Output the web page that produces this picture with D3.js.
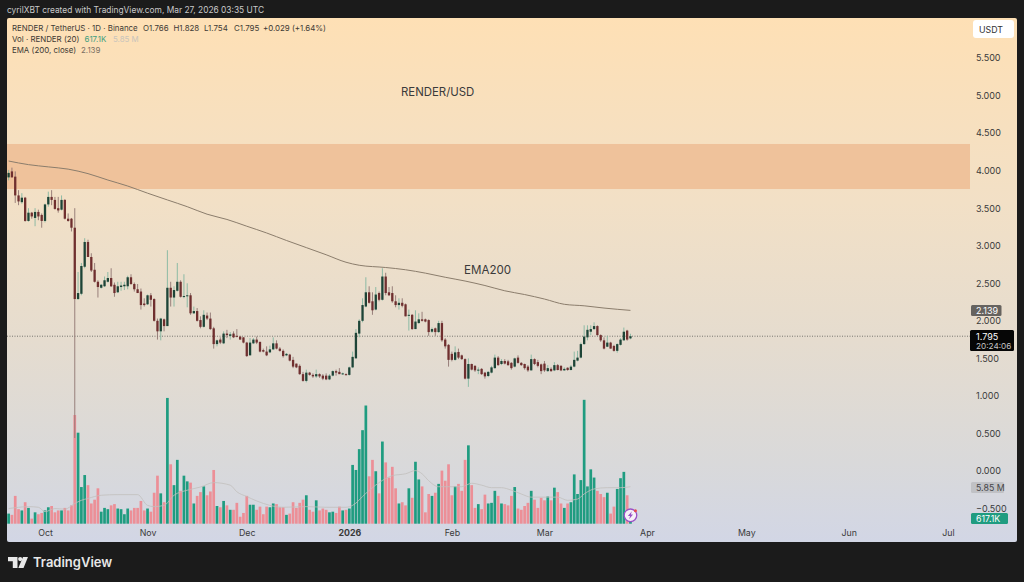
<!DOCTYPE html>
<html>
<head>
<meta charset="utf-8">
<script src="https://cdn.jsdelivr.net/npm/d3@7"></script>
<style>
  html, body { margin: 0; padding: 0; background: #1b1b1b; }
  svg { display: block; }
  text { font-family: Inter, "Liberation Sans", sans-serif; }
</style>
</head>
<body>
<div id="chart"></div>
<script>
const firstDay = Date.UTC(2025, 8, 20);
const lastDay = Date.UTC(2026, 2, 28);

const opens = [
  3.91,3.99,3.92,3.67,3.58,3.64,3.33,3.44,3.37,3.45,
  3.41,3.33,3.55,3.65,3.61,3.50,3.48,3.61,3.36,3.36,
  3.24,2.29,2.36,2.72,3.05,2.85,2.68,2.52,2.44,2.46,
  2.52,2.57,2.48,2.38,2.45,2.46,2.46,2.58,2.49,2.42,
  2.39,2.23,2.22,2.34,2.29,2.00,1.86,2.02,1.93,2.44,
  2.31,2.40,2.52,2.32,2.33,2.34,2.10,2.13,2.01,1.92,
  2.07,2.03,1.90,1.69,1.75,1.70,1.83,1.80,1.83,1.80,
  1.79,1.78,1.71,1.54,1.70,1.75,1.72,1.61,1.59,1.58,
  1.62,1.70,1.63,1.60,1.54,1.55,1.48,1.43,1.40,1.29,
  1.20,1.31,1.28,1.26,1.29,1.27,1.27,1.22,1.27,1.33,
  1.32,1.29,1.29,1.28,1.38,1.50,1.83,2.00,2.19,2.38,
  2.26,2.15,2.37,2.28,2.59,2.38,2.37,2.26,2.21,2.24,
  2.22,2.07,2.08,1.89,1.97,2.02,2.02,2.01,1.855,1.90,
  1.85,1.97,1.75,1.68,1.56,1.48,1.585,1.54,1.49,1.23,
  1.425,1.40,1.34,1.36,1.31,1.265,1.31,1.37,1.51,1.425,
  1.465,1.46,1.44,1.39,1.51,1.44,1.425,1.39,1.34,1.49,
  1.45,1.42,1.43,1.33,1.36,1.34,1.41,1.40,1.34,1.375,
  1.345,1.39,1.47,1.51,1.69,1.78,1.855,1.89,1.93,1.81,
  1.74,1.655,1.71,1.665,1.60,1.68,1.74,1.87,1.766
];
const highs = [
  4.01,4.04,3.99,3.74,3.70,3.65,3.50,3.45,3.50,3.48,
  3.43,3.56,3.72,3.74,3.65,3.65,3.67,3.62,3.43,3.37,
  3.50,2.65,2.77,3.10,3.08,2.90,2.77,2.54,2.49,2.59,
  2.65,2.70,2.51,2.52,2.52,2.52,2.60,2.62,2.51,2.49,
  2.43,2.30,2.35,2.37,2.30,2.03,2.04,2.03,2.94,2.52,
  2.46,2.77,2.54,2.62,2.50,2.37,2.19,2.17,2.06,2.14,
  2.11,2.11,1.92,1.75,1.78,1.86,1.88,1.85,1.86,1.89,
  1.80,1.78,1.72,1.77,1.77,1.79,1.72,1.63,1.66,1.67,
  1.78,1.74,1.65,1.62,1.57,1.56,1.52,1.43,1.42,1.32,
  1.35,1.32,1.30,1.35,1.30,1.29,1.30,1.29,1.34,1.35,
  1.37,1.31,1.30,1.39,1.59,1.89,2.02,2.30,2.58,2.46,
  2.38,2.45,2.39,2.70,2.64,2.45,2.46,2.34,2.30,2.30,
  2.23,2.15,2.09,2.14,2.10,2.12,2.03,2.02,1.91,1.91,
  2.00,2.00,1.77,1.69,1.59,1.66,1.63,1.55,1.50,1.50,
  1.43,1.41,1.38,1.37,1.32,1.33,1.40,1.55,1.53,1.49,
  1.49,1.48,1.45,1.51,1.54,1.45,1.43,1.41,1.55,1.50,
  1.48,1.43,1.465,1.41,1.38,1.45,1.425,1.41,1.38,1.38,
  1.41,1.59,1.60,1.71,1.94,1.94,1.94,1.98,1.94,1.82,
  1.78,1.80,1.72,1.68,1.70,1.77,1.91,1.88,1.828
];
const lows = [
  3.87,3.91,3.57,3.54,3.56,3.32,3.32,3.36,3.26,3.34,
  3.24,3.31,3.52,3.54,3.48,3.44,3.47,3.35,3.32,3.19,
  0.44,2.28,2.34,2.70,2.85,2.65,2.51,2.31,2.43,2.45,
  2.51,2.45,2.32,2.37,2.40,2.41,2.42,2.48,2.39,2.37,
  2.15,2.19,2.21,2.19,1.99,1.75,1.74,1.86,1.93,2.19,
  2.19,2.39,2.31,2.30,2.18,2.08,2.09,1.99,1.90,1.91,
  2.01,1.88,1.63,1.66,1.69,1.69,1.77,1.75,1.77,1.78,
  1.75,1.70,1.52,1.54,1.69,1.69,1.58,1.58,1.53,1.57,
  1.61,1.62,1.59,1.51,1.53,1.46,1.37,1.37,1.28,1.19,
  1.18,1.27,1.24,1.24,1.24,1.21,1.21,1.21,1.26,1.27,
  1.29,1.28,1.27,1.27,1.37,1.50,1.78,1.98,2.18,2.23,
  2.08,2.14,2.26,2.27,2.34,2.33,2.24,2.18,2.15,2.18,
  2.06,1.87,1.88,1.89,1.96,1.99,1.98,1.80,1.84,1.80,
  1.84,1.72,1.63,1.39,1.46,1.47,1.49,1.48,1.22,1.12,
  1.34,1.32,1.29,1.28,1.23,1.25,1.30,1.36,1.40,1.41,
  1.42,1.40,1.35,1.38,1.43,1.40,1.35,1.32,1.34,1.41,
  1.38,1.29,1.32,1.32,1.32,1.33,1.34,1.33,1.335,1.335,
  1.34,1.38,1.46,1.50,1.68,1.74,1.81,1.88,1.80,1.72,
  1.62,1.65,1.63,1.59,1.575,1.67,1.735,1.735,1.754
];
const closes = [
  3.97,3.91,3.67,3.59,3.64,3.33,3.44,3.39,3.45,3.39,
  3.33,3.55,3.65,3.61,3.49,3.47,3.61,3.36,3.33,3.24,
  2.29,2.37,2.73,3.05,2.85,2.67,2.52,2.45,2.48,2.54,
  2.57,2.46,2.37,2.46,2.47,2.48,2.58,2.49,2.42,2.37,
  2.21,2.21,2.34,2.28,2.00,1.86,2.03,1.93,2.44,2.31,
  2.41,2.52,2.32,2.33,2.34,2.10,2.13,2.00,1.92,2.08,
  2.03,1.89,1.69,1.74,1.71,1.83,1.81,1.82,1.78,1.79,
  1.75,1.71,1.53,1.71,1.75,1.71,1.59,1.59,1.54,1.62,
  1.70,1.63,1.60,1.53,1.56,1.47,1.39,1.38,1.29,1.20,
  1.31,1.28,1.26,1.29,1.26,1.23,1.22,1.27,1.33,1.31,
  1.29,1.30,1.28,1.38,1.52,1.84,2.00,2.21,2.38,2.24,
  2.14,2.35,2.28,2.59,2.37,2.34,2.26,2.21,2.24,2.20,
  2.06,2.08,1.89,1.99,2.02,2.00,1.99,1.85,1.89,1.85,
  1.97,1.74,1.66,1.48,1.48,1.58,1.51,1.49,1.23,1.425,
  1.35,1.34,1.35,1.29,1.26,1.32,1.38,1.51,1.41,1.465,
  1.43,1.41,1.37,1.50,1.44,1.41,1.37,1.34,1.49,1.425,
  1.40,1.33,1.34,1.37,1.33,1.41,1.345,1.34,1.36,1.345,
  1.39,1.48,1.51,1.69,1.79,1.88,1.89,1.93,1.81,1.74,
  1.63,1.71,1.63,1.60,1.69,1.75,1.855,1.75,1.795
];
// volume in millions
const volumes = [
  1.6,1.4,4.4,2.3,2.1,3.4,2.5,0.8,1.8,1.5,
  1.7,2.1,2.6,2.8,1.8,2.1,2.1,2.5,2.1,2.9,
  17.2,14.4,5.8,7.7,6.1,3.2,3.8,5.6,1.9,2.5,
  2.3,2.9,3.1,2.4,2.3,1.5,2.4,2.1,2.5,2.5,
  3.6,2.1,2.4,1.9,4.9,7.6,4.8,3.4,19.9,9.4,
  6.1,10.1,5.2,7.6,6.7,6.5,3.2,4.4,5.0,5.9,
  4.5,5.1,8.5,2.8,2.6,3.6,2.9,2.2,2.2,3.3,
  1.1,1.7,4.4,3.0,3.0,2.2,2.7,1.5,2.7,2.6,
  3.2,3.1,2.6,2.6,1.4,1.6,3.4,2.5,3.3,3.8,
  4.5,2.2,1.9,3.7,2.1,2.4,2.2,1.8,1.9,1.7,
  2.7,2.1,2.2,2.4,9.3,8.5,11.8,14.8,18.7,7.5,
  10.1,8.3,4.8,13.0,9.7,7.3,9.0,5.6,3.2,3.4,
  2.9,5.6,4.1,9.8,7.0,5.9,1.8,4.7,4.4,4.9,
  6.3,8.4,6.8,9.4,4.5,5.9,6.3,5.2,10.1,12.4,
  6.1,2.5,3.1,2.3,4.6,3.2,3.3,5.2,4.4,3.2,
  3.1,2.9,4.4,5.8,2.4,2.2,2.8,3.3,5.2,3.8,
  2.5,4.1,3.7,4.3,3.7,5.7,5.0,3.2,2.5,3.2,
  3.4,7.8,4.7,6.9,19.6,5.9,8.6,7.3,5.2,4.7,
  4.2,4.9,1.6,2.7,5.5,7.2,8.2,4.5,0.6171
];

// EMA 200 read at every sixth candle or so
const emaIdx = [0,6,12,18,24,30,36,42,48,54,60,66,72,78,84,90,96,102,106,114,120,126,132,138,144,150,156,162,168,174,180,188];
const emaVal = [4.128,4.08,4.05,4.02,3.96,3.875,3.795,3.70,3.61,3.52,3.42,3.35,3.26,3.17,3.07,2.975,2.88,2.78,2.74,2.71,2.68,2.635,2.58,2.53,2.47,2.40,2.35,2.29,2.22,2.20,2.17,2.139];

// volume moving average (20), millions
const volEmaIdx = [0,3,6,9,11,14,17,20,22,24,28,33,39,42,44,47,50,54,58,62,67,69,72,75,79,83,90,96,102,104,108,112,116,120,123,125,127,130,134,137,140,143,146,149,152,155,158,162,166,169,172,174,177,181,185,188];
const volEmaVal = [2.4,2.6,2.7,2.6,1.9,2.4,2.3,3.2,3.7,4.0,4.5,4.6,4.6,2.9,2.7,2.9,4.5,5.3,5.8,6.5,6.1,5.05,4.3,3.6,2.9,2.6,2.7,2.6,2.6,2.9,4.8,6.5,7.6,7.9,8.4,7.9,6.8,5.85,5.85,5.85,6.4,6.1,5.7,5.7,5.3,4.7,4.2,4.2,4.2,3.7,3.9,4.7,5.5,5.7,5.7,5.85];

const priceTicks = [5.5, 5, 4.5, 4, 3.5, 3, 2.5, 2, 1.5, 1, 0.5, 0, -0.5];
const monthTicks = [[2025,9],[2025,10],[2025,11],[2026,0],[2026,1],[2026,2],[2026,3],[2026,4],[2026,5],[2026,6]];
const zone = [3.755, 4.355];
const lastPrice = 1.795;
const lastEma = 2.139;
const lastVolEma = 5.85;
const lastVol = 0.6171;

const W = 1024, H = 582;
const pane = { left: 7, right: 1017, top: 18, bottom: 542, plotRight: 970 };
const up = { body: "#1d4437", wick: "#82b7a0", vol: "#1f9c80" };
const down = { body: "#6f2f2f", wick: "#8f7572", vol: "#ec8f97" };

const days = d3.utcDay.range(firstDay, lastDay);
const candles = days.map((d, i) => ({
  date: d, open: opens[i], high: highs[i], low: lows[i], close: closes[i], vol: volumes[i]
}));

const x = d3.scaleUtc()
  .domain([Date.UTC(2025, 9, 1), Date.UTC(2026, 6, 1)])
  .range([45, 948]);
const y = d3.scaleLinear().domain([0, 5.5]).range([471, 58]);
const yVol = d3.scaleLinear().domain([0, 20]).range([523.7, 397.3]);

const svg = d3.select("#chart").append("svg").attr("width", W).attr("height", H);

const defs = svg.append("defs");
const grad = defs.append("linearGradient").attr("id", "paneBg")
  .attr("x1", 0).attr("y1", 0).attr("x2", 0).attr("y2", 1);
[["0%", "#fee0b5"], ["35%", "#f2e0c6"], ["62%", "#e5dccf"], ["85%", "#d9d9da"], ["100%", "#d2d6e5"]]
  .forEach((s) => grad.append("stop").attr("offset", s[0]).attr("stop-color", s[1]));
defs.append("clipPath").attr("id", "plotClip").append("rect")
  .attr("x", pane.left).attr("y", pane.top)
  .attr("width", pane.plotRight - pane.left).attr("height", pane.bottom - pane.top);

svg.append("rect")
  .attr("x", pane.left).attr("y", pane.top)
  .attr("width", pane.right - pane.left).attr("height", pane.bottom - pane.top)
  .attr("rx", 2).attr("fill", "url(#paneBg)");

// resistance zone
svg.append("rect")
  .attr("x", pane.left).attr("width", pane.plotRight - pane.left)
  .attr("y", y(zone[1])).attr("height", y(zone[0]) - y(zone[1]))
  .attr("fill", "#efc29b");

const plot = svg.append("g").attr("clip-path", "url(#plotClip)");

// volume bars
plot.append("g").selectAll("rect").data(candles).join("rect")
  .attr("x", (d) => x(d.date) - 1.35)
  .attr("width", 2.7)
  .attr("y", (d) => yVol(d.vol))
  .attr("height", (d) => yVol(0) - yVol(d.vol))
  .attr("fill", (d) => (d.close >= d.open ? up.vol : down.vol));

// volume average
plot.append("path")
  .datum(volEmaIdx.map((k, i) => [days[k], volEmaVal[i]]))
  .attr("fill", "none").attr("stroke", "#c2bfbd").attr("stroke-width", 0.8)
  .attr("d", d3.line().x((d) => x(d[0])).y((d) => yVol(d[1])).curve(d3.curveMonotoneX));

// last price line
plot.append("line")
  .attr("x1", pane.left).attr("x2", pane.plotRight)
  .attr("y1", y(lastPrice)).attr("y2", y(lastPrice))
  .attr("stroke", "#5c5a55").attr("stroke-width", 0.8).attr("stroke-dasharray", "1 1.5");

// ema 200
plot.append("path")
  .datum(emaIdx.map((k, i) => [days[k], emaVal[i]]))
  .attr("fill", "none").attr("stroke", "#8b7d6c").attr("stroke-width", 1)
  .attr("d", d3.line().x((d) => x(d[0])).y((d) => y(d[1])).curve(d3.curveMonotoneX));

// candles
const candle = plot.append("g").selectAll("g").data(candles).join("g");
candle.append("line")
  .attr("x1", (d) => x(d.date)).attr("x2", (d) => x(d.date))
  .attr("y1", (d) => y(d.high)).attr("y2", (d) => y(d.low))
  .attr("stroke", (d) => (d.close >= d.open ? up.wick : down.wick))
  .attr("stroke-width", 0.9);
candle.append("rect")
  .attr("x", (d) => x(d.date) - 1.15)
  .attr("width", 2.3)
  .attr("y", (d) => y(Math.max(d.open, d.close)))
  .attr("height", (d) => Math.max(1, Math.abs(y(d.open) - y(d.close))))
  .attr("fill", (d) => (d.close >= d.open ? up.body : down.body));

// axes
const priceAxis = svg.append("g")
  .attr("transform", `translate(976,0)`)
  .call(d3.axisRight(y).tickValues(priceTicks).tickSize(0).tickPadding(0).tickFormat(d3.format(".3f")));
priceAxis.select(".domain").remove();
priceAxis.selectAll("text").attr("fill", "#3a3a3a").attr("font-size", 9).attr("font-family", "Inter");

const timeAxis = svg.append("g")
  .attr("transform", `translate(0,533)`)
  .call(d3.axisBottom(x)
    .tickValues(monthTicks.map((m) => new Date(Date.UTC(m[0], m[1], 1))))
    .tickSize(0).tickPadding(0)
    .tickFormat((d) => (d.getUTCMonth() === 0 ? d3.utcFormat("%Y")(d) : d3.utcFormat("%b")(d))));
timeAxis.select(".domain").remove();
timeAxis.selectAll("text")
  .attr("y", 0).attr("dy", "0.35em")
  .attr("fill", "#3a3a3a").attr("font-size", 8.8).attr("font-family", "Inter")
  .attr("font-weight", (d) => (d.getUTCMonth() === 0 ? 700 : 400));

// header + legend
svg.append("text").attr("x", 7).attr("y", 13).attr("fill", "#c9c9c9").attr("font-size", 8.4)
  .text("cyrilXBT created with TradingView.com, Mar 27, 2026 03:35 UTC");

const legend = [
  { y: 31, parts: [["RENDER / TetherUS · 1D · Binance", "#3d3a35", 12], ["O1.766", "#3d3a35", 143], ["H1.828", "#3d3a35", 173.5], ["L1.754", "#3d3a35", 204], ["C1.795", "#3d3a35", 234], ["+0.029 (+1.64%)", "#3d3a35", 263]] },
  { y: 42, parts: [["Vol · RENDER (20)", "#3d3a35", 12], ["617.1K", "#3f9e80", 84.5], ["5.85 M", "#c8c4bc", 113]] },
  { y: 53, parts: [["EMA (200, close)", "#3d3a35", 12], ["2.139", "#7a6f63", 81]] }
];
legend.forEach((row) => {
  row.parts.forEach((p) => {
    svg.append("text").attr("x", p[2]).attr("y", row.y)
      .attr("fill", p[1]).attr("font-size", 7.9).text(p[0]);
  });
});

// annotations
svg.append("text").attr("x", 401).attr("y", 95.5).attr("fill", "#3a3a3a").attr("font-size", 11.4).text("RENDER/USD");
svg.append("text").attr("x", 464).attr("y", 273.5).attr("fill", "#3a3a3a").attr("font-size", 11.6).text("EMA200");

// right side tags
function tag(xp, yp, w, h, fill, rx) {
  return svg.append("rect").attr("x", xp).attr("y", yp).attr("width", w).attr("height", h)
    .attr("rx", rx).attr("fill", fill);
}
function label(xp, yp, str, fill, size) {
  return svg.append("text").attr("x", xp).attr("y", yp).attr("fill", fill)
    .attr("font-size", size || 9).text(str);
}
tag(973, 20, 41, 18, "#ffffff", 3);
label(979, 32.5, "USDT", "#333333", 8.8);

tag(971, 305, 30.5, 11, "#66635f", 1.5);
label(976, y(lastEma) + 3.2, d3.format(".3f")(lastEma), "#ffffff");

tag(970, 330, 44, 21, "#060606", 1.5);
label(976, 339.5, d3.format(".3f")(lastPrice), "#ffffff");
label(976, 349, "20:24:06", "#c4c4c4", 8.2);

tag(971, 482, 33, 11, "#c0c1c5", 1.5);
label(976, 490.7, lastVolEma + " M", "#46464a", 8.8);

tag(971, 513, 37, 11, "#1f9c80", 1.5);
label(976, 521.7, d3.format(".1f")(lastVol * 1000) + "K", "#ffffff", 8.8);

// lightning badge on the last bar
const badge = svg.append("g").attr("transform", `translate(${x(days[days.length - 1])},515.3)`);
badge.append("circle").attr("r", 6.3).attr("fill", "#f6f1f8").attr("stroke", "#9a50c6").attr("stroke-width", 1.3);
badge.append("path").attr("d", "M1.4,-4 L-2.6,0.8 L-0.4,0.8 L-1.4,4 L2.6,-0.9 L0.4,-0.9 Z").attr("fill", "#9a50c6");
badge.append("circle").attr("cx", 5).attr("cy", -4.6).attr("r", 1.5).attr("fill", "#e5484d");

// footer logo
const logo = svg.append("g").attr("fill", "#e8e8e8");
logo.append("path").attr("d", "M8,557 H17.5 V568 H12.8 V561.3 H8 Z");
logo.append("circle").attr("cx", 20.2).attr("cy", 559.1).attr("r", 2.1);
logo.append("path").attr("d", "M23,557 H28 L23.5,568 H18.3 Z");
svg.append("text").attr("x", 33).attr("y", 567).attr("fill", "#e8e8e8")
  .attr("font-size", 13).attr("font-weight", 600).text("TradingView");
</script>
</body>
</html>
